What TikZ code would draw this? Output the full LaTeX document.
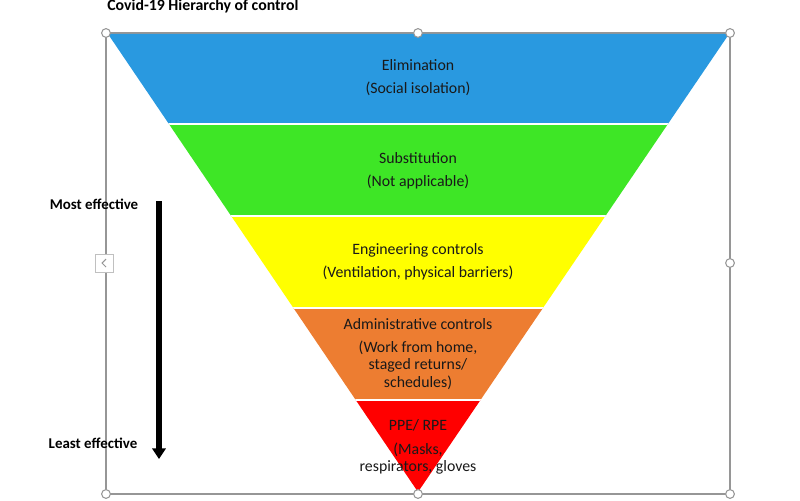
\documentclass[tikz,border=0pt]{standalone}
\usepackage{fontspec}
\setmainfont{Carlito}
\usetikzlibrary{arrows.meta}
\definecolor{elimblue}{RGB}{41,153,224}
\definecolor{subgreen}{RGB}{62,230,38}
\definecolor{enggyellow}{RGB}{255,255,0}
\definecolor{adminorange}{RGB}{237,125,49}
\definecolor{ppered}{RGB}{255,0,0}
\definecolor{framegray}{RGB}{150,150,150}

\begin{document}
\begin{tikzpicture}[x=0.02cm, y=-0.02cm]
\tikzstyle{layertext} = [font=\fontsize{9}{9.7}\selectfont, text=black!90, align=center, inner sep=0pt]
\tikzstyle{sidetext} = [font=\bfseries\fontsize{8.5}{9.7}\selectfont, inner sep=0pt]
\tikzstyle{handle} = [circle, draw=framegray, fill=white, line width=0.6pt, inner sep=0pt, minimum size=5pt]
\tikzstyle{arrow} = [line width=2.9pt, -{Triangle[width=7.5pt,length=6pt]}]
\tikzstyle{divider} = [white, line width=1pt]

\useasboundingbox (0,0) rectangle (800,500);

% selection frame
\draw [framegray, line width=0.6pt] (106,33) rectangle (730,494);

% pyramid
\coordinate (TL) at (108,34);
\coordinate (TR) at (729,34);
\coordinate (Apex) at (418,492);
\begin{scope}
\clip (TL) -- (TR) -- (Apex) -- cycle;
\fill [elimblue] (100,30) rectangle (740,124);
\fill [subgreen] (100,124) rectangle (740,216);
\fill [enggyellow] (100,216) rectangle (740,308);
\fill [adminorange] (100,308) rectangle (740,400);
\fill [ppered] (100,400) rectangle (740,500);
\foreach \y in {124,216,308,400}
  \draw [divider] (100,\y) -- (740,\y);
\end{scope}

% layer texts
\node (Elim) [layertext] at (418,65) {Elimination};
\node (ElimSub) [layertext] at (418,89) {(Social isolation)};
\node (Subst) [layertext] at (418,158) {Substitution};
\node (SubstSub) [layertext] at (418,182) {(Not applicable)};
\node (Engg) [layertext] at (418,250) {Engineering controls};
\node (EnggSub) [layertext] at (418,273) {(Ventilation, physical barriers)};
\node (Admin) [layertext] at (418,324) {Administrative controls};
\node (AdminSub) [layertext, anchor=north] at (418,341) {(Work from home,\\staged returns/\\schedules)};
\node (PPE) [layertext] at (418,425) {PPE/ RPE};
\node (PPESub) [layertext, anchor=north] at (418,443) {(Masks,\\respirators, gloves};

% title and effectiveness arrow
\node (Title) [sidetext, font=\bfseries\fontsize{9}{9.7}\selectfont, anchor=west] at (107,6) {Covid-19 Hierarchy of control};
\node (Most) [sidetext] at (94,204) {Most effective};
\node (Least) [sidetext] at (93,443) {Least effective};
\coordinate (ArrTop) at (159,201);
\coordinate (ArrEnd) at (159,459);
\draw [arrow] (ArrTop) -- (ArrEnd);

% frame handles
\foreach \x/\y in {106/33, 418/33, 730/33, 730/263, 730/494, 418/494, 106/494}
  \node [handle] at (\x,\y) {};
\fill [white, draw=framegray!60, line width=0.5pt] (95,254) rectangle (113,272);
\draw [framegray, line width=0.6pt] (106,259) -- (102,263) -- (106,267);
\end{tikzpicture}
\end{document}
